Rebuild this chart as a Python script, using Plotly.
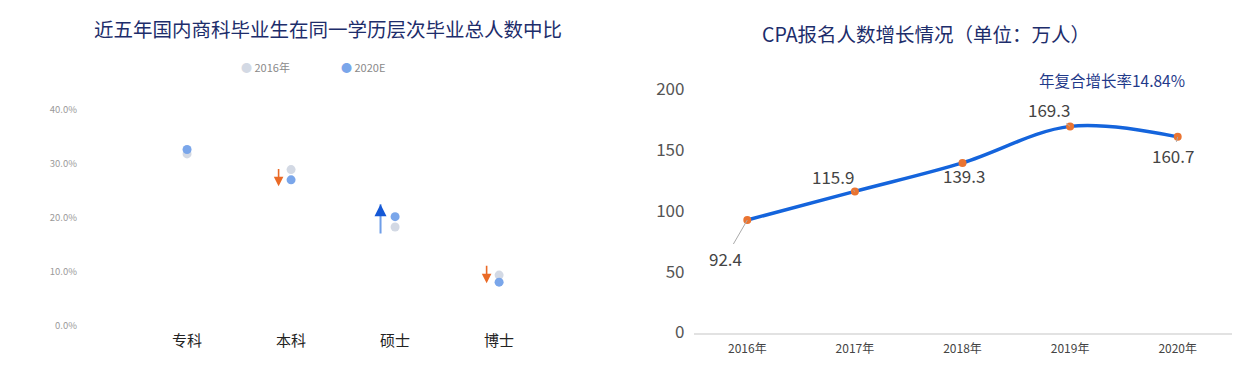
import plotly.graph_objects as go

# ---- Left chart data ----
levels = ["专科", "本科", "硕士", "博士"]
share_2016 = [31.8, 28.9, 18.3, 9.4]
share_2020 = [32.6, 27.0, 20.2, 8.1]
arrow_from = [None, 29.3, 16.8, 11.4]
arrow_to = [None, 25.8, 22.5, 7.9]
pct_ticks = [0, 10, 20, 30, 40]
pct_tick_text = ["0.0%", "10.0%", "20.0%", "30.0%", "40.0%"]
series_names = ["2016年", "2020E"]

# ---- Right chart data ----
years = ["2016年", "2017年", "2018年", "2019年", "2020年"]
cpa = [92.4, 115.9, 139.3, 169.3, 160.7]
cpa_ticks = [0, 50, 100, 150, 200]
cagr_text = "年复合增长率14.84%"

FONT = "Noto Sans CJK SC, Noto Sans, sans-serif"
NAVY = "#1d2d6b"
C16 = "#d3d9e4"
C20 = "#7aa6ea"

fig = go.Figure()
xi = list(range(len(levels)))

fig.add_trace(go.Scatter(x=xi, y=share_2016, mode="markers", name=series_names[0],
                         marker=dict(color=C16, size=9), xaxis="x", yaxis="y"))
fig.add_trace(go.Scatter(x=xi, y=share_2020, mode="markers", name=series_names[1],
                         marker=dict(color=C20, size=9), xaxis="x", yaxis="y"))

fig.add_trace(go.Scatter(x=years, y=cpa, mode="lines+markers", showlegend=False,
                         line=dict(color="#1464dc", width=3.5, shape="spline", smoothing=1.0),
                         marker=dict(color="#ea7431", size=8),
                         xaxis="x2", yaxis="y2"))

annotations = []
# arrows on left chart
for i in range(len(levels)):
    if arrow_from[i] is None:
        continue
    up = arrow_to[i] > arrow_from[i]
    if up:
        annotations.append(dict(x=i - 0.14, y=arrow_to[i], ax=i - 0.14, ay=arrow_from[i],
                                xref="x", yref="y", axref="x", ayref="y", text="",
                                showarrow=True, arrowhead=0, arrowwidth=2, arrowcolor="#6f9ee8"))
        annotations.append(dict(x=i - 0.14, y=arrow_to[i], ax=0, ay=12,
                                xref="x", yref="y", text="",
                                showarrow=True, arrowhead=2, arrowsize=1.2, arrowwidth=2,
                                arrowcolor="#1558d6"))
    else:
        annotations.append(dict(x=i - 0.12, y=arrow_to[i], ax=i - 0.12, ay=arrow_from[i],
                                xref="x", yref="y", axref="x", ayref="y", text="",
                                showarrow=True, arrowhead=2, arrowsize=1.2, arrowwidth=1.6,
                                arrowcolor="#ea6a26"))

# legend (as annotations for tight symbol/text spacing)
for name, col, px in zip(series_names, [C16, C20], [239, 339]):
    annotations.append(dict(x=px / 1239, y=1 - 67 / 370, xref="paper", yref="paper",
                            xanchor="left", yanchor="middle", showarrow=False,
                            text=f"<span style='color:{col}'>●</span> {name}",
                            font=dict(size=11, color="#8a8a8a", family=FONT)))

# data labels on right chart
offsets = [(-22, 38), (-22, -15), (1, 13), (-21, -17), (-5, 19)]
for yr, v, (ox, oy) in zip(years, cpa, offsets):
    annotations.append(dict(x=yr, y=v, xref="x2", yref="y2", text=f"{v}",
                            showarrow=True, arrowhead=0, arrowwidth=1, arrowcolor="#aaaaaa",
                            ax=ox, ay=oy, font=dict(size=17, color="#444444", family=FONT)))

annotations.append(dict(x=1112 / 1239, y=1 - 80 / 370, xref="paper", yref="paper",
                        xanchor="center", yanchor="middle",
                        text=cagr_text, showarrow=False,
                        font=dict(size=15.5, color="#1f3a8a", family=FONT)))
annotations.append(dict(x=328 / 1239, y=1 - 29 / 370, xref="paper", yref="paper",
                        xanchor="center", yanchor="middle",
                        text="近五年国内商科毕业生在同一学历层次毕业总人数中比", showarrow=False,
                        font=dict(size=19.5, color=NAVY, family=FONT)))
annotations.append(dict(x=926 / 1239, y=1 - 34 / 370, xref="paper", yref="paper",
                        xanchor="center", yanchor="middle",
                        text="CPA报名人数增长情况（单位：万人）", showarrow=False,
                        font=dict(size=19.5, color=NAVY, family=FONT)))

fig.update_layout(
    width=1239, height=370,
    margin=dict(l=0, r=0, t=0, b=0, autoexpand=False),
    paper_bgcolor="white", plot_bgcolor="white",
    font=dict(family=FONT),
    showlegend=False,
    xaxis=dict(domain=[82 / 1239, 600 / 1239], range=[-1.01, 3.97], automargin=False,
               tickvals=xi, ticktext=levels, showgrid=False, zeroline=False, showline=False,
               ticks="", ticklabelstandoff=4,
               tickfont=dict(size=15, color="#222222", family=FONT)),
    yaxis=dict(domain=[(370 - 326) / 370, (370 - 109.5) / 370], range=[0, 40], automargin=False,
               tickvals=pct_ticks, ticktext=pct_tick_text, showgrid=False, zeroline=False,
               showline=False, ticks="", ticklabelstandoff=4,
               tickfont=dict(size=9.5, color="#9a9a9a", family=FONT)),
    xaxis2=dict(domain=[693.5 / 1239, 1231.5 / 1239], range=[-0.5, 4.5], type="category",
                anchor="y2", showgrid=False, zeroline=False, showline=True, automargin=False,
                linecolor="#e2e2e2", linewidth=1.5, ticks="", ticklabelstandoff=4,
                tickfont=dict(size=12, color="#444444", family=FONT)),
    yaxis2=dict(domain=[(370 - 332.5) / 370, (370 - 89) / 370], range=[0, 200], anchor="x2",
                tickvals=cpa_ticks, showgrid=False, zeroline=False, showline=False,
                automargin=False, ticks="", ticklabelstandoff=8,
                tickfont=dict(size=17, color="#555555", family=FONT)),
    annotations=annotations,
)

fig.write_html("out.html")
